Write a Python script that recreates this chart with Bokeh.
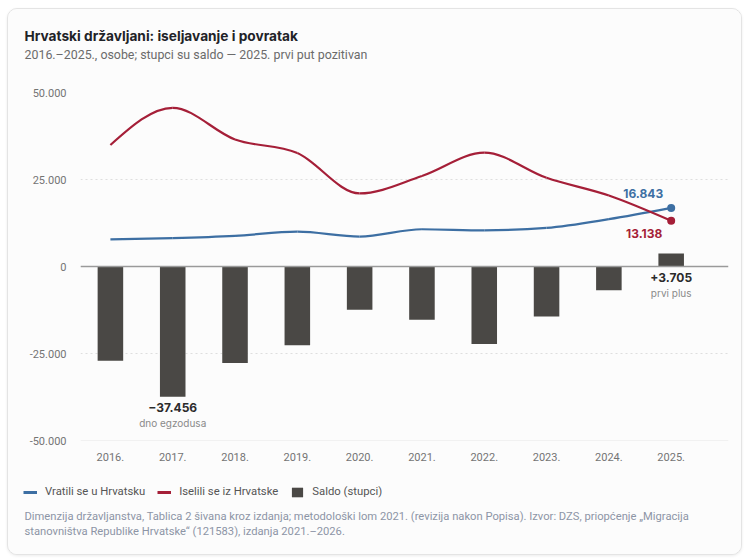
from bokeh.plotting import figure
from bokeh.layouts import column
from bokeh.models import (Range1d, FixedTicker, Span, Label, Legend, LegendItem,
                          ColumnDataSource)
from bokeh.embed import file_html
from bokeh.resources import INLINE

# ---- data ----
years = ["2016.", "2017.", "2018.", "2019.", "2020.", "2021.", "2022.", "2023.", "2024.", "2025."]
vratili = [7800, 8144, 8800, 10000, 8600, 10700, 10400, 11100, 13600, 16843]
iselili = [34900, 45600, 36500, 32600, 21000, 26000, 32700, 25500, 20400, 13138]
saldo = [-27100, -37456, -27700, -22600, -12400, -15300, -22300, -14400, -6800, 3705]
y_ticks = [-50000, -25000, 0, 25000, 50000]
y_tick_labels = ["-50.000", "-25.000", "0", "25.000", "50.000"]
series_names = ["Vratili se u Hrvatsku", "Iselili se iz Hrvatske", "Saldo (stupci)"]

TITLE = "Hrvatski državljani: iseljavanje i povratak"
SUBTITLE = "2016.\u20132025., osobe; stupci su saldo \u2014 2025. prvi put pozitivan"
NOTE_1 = ("Dimenzija državljanstva, Tablica 2 šivana kroz izdanja; metodološki lom 2021. "
          "(revizija nakon Popisa). Izvor: DZS, priopćenje \u201eMigracija")
NOTE_2 = "stanovništva Republike Hrvatske\u201c (121583), izdanja 2021.\u20132026."

BLUE = "#3d6fa3"
RED = "#a51f38"
BAR = "#4a4845"
BG = "#fcfcfc"
W = 733
NAN = float("nan")

xs = list(range(len(years)))


def monotone_bezier(x, y):
    """Control points of a monotone-X cubic curve through the data points."""
    n = len(x)
    t = [0.0] * n
    s = [(y[i + 1] - y[i]) / (x[i + 1] - x[i]) for i in range(n - 1)]
    for i in range(1, n - 1):
        h0 = x[i] - x[i - 1]
        h1 = x[i + 1] - x[i]
        s0, s1 = s[i - 1], s[i]
        p = (s0 * h1 + s1 * h0) / (h0 + h1)
        sg = (1 if s0 > 0 else -1 if s0 < 0 else 0) + (1 if s1 > 0 else -1 if s1 < 0 else 0)
        t[i] = sg * min(abs(s0), abs(s1), 0.5 * abs(p)) if sg else 0.0
    t[0] = (3 * s[0] - t[1]) / 2
    t[-1] = (3 * s[-1] - t[-2]) / 2
    d = dict(x0=[], y0=[], x1=[], y1=[], cx0=[], cy0=[], cx1=[], cy1=[])
    for i in range(n - 1):
        dx = (x[i + 1] - x[i]) / 3
        d["x0"].append(x[i]); d["y0"].append(y[i])
        d["x1"].append(x[i + 1]); d["y1"].append(y[i + 1])
        d["cx0"].append(x[i] + dx); d["cy0"].append(y[i] + t[i] * dx)
        d["cx1"].append(x[i + 1] - dx); d["cy1"].append(y[i + 1] - t[i + 1] * dx)
    return ColumnDataSource(d)


def blank(h):
    f = figure(width=W, height=h, output_backend="svg", toolbar_location=None,
               x_range=Range1d(0, W), y_range=Range1d(h, 0),
               x_axis_location=None, y_axis_location=None, frame_align=False,
               min_border=0, min_border_left=0, min_border_right=0,
               min_border_top=0, min_border_bottom=0,
               background_fill_color=BG, border_fill_color=BG, outline_line_color=None)
    f.xgrid.visible = False
    f.ygrid.visible = False
    return f


def txt(f, x, y, text, color, size, font, bold=False, align="left"):
    f.add_layout(Label(x=x, y=y, text=text, text_align=align, text_baseline="middle",
                       text_color=color, text_font_size=size, text_font=font,
                       text_font_style="bold" if bold else "normal"))


# ---- header ----
head = blank(70)
txt(head, 16, 26, TITLE, "#1f2328", "13.7px", "Inter", bold=True)
txt(head, 16, 45, SUBTITLE, "#6b6b6b", "12.4px", "Roboto")

# ---- chart ----
p = figure(width=W, height=395, output_backend="svg", toolbar_location=None,
           x_range=Range1d(-0.48, 9.92), y_range=Range1d(-50000, 50000), frame_align=False,
           min_border_left=72, min_border_right=13, min_border_top=13, min_border_bottom=34,
           background_fill_color=BG, border_fill_color=BG, outline_line_color=None)

p.xaxis.ticker = FixedTicker(ticks=xs)
p.xaxis.major_label_overrides = {i: years[i] for i in xs}
p.yaxis.ticker = FixedTicker(ticks=y_ticks)
p.yaxis.major_label_overrides = {y_ticks[i]: y_tick_labels[i] for i in range(len(y_ticks))}
for ax in (p.xaxis, p.yaxis):
    ax.axis_line_color = None
    ax.major_tick_line_color = None
    ax.minor_tick_line_color = None
    ax.major_label_text_font = "Roboto"
    ax.major_label_text_font_size = "11px"
    ax.major_label_text_color = "#747474"
p.xaxis.major_label_standoff = 6
p.yaxis.major_label_standoff = 8

p.xgrid.grid_line_color = None
p.ygrid.ticker = FixedTicker(ticks=y_ticks[1:])
p.ygrid.grid_line_color = "#dedede"
p.ygrid.grid_line_dash = "2 3"
p.add_layout(Span(location=y_ticks[0], dimension="width", line_color="#e6e6e6", line_width=1.2))

p.vbar(x=xs, top=saldo, bottom=0, width=0.41, fill_color=BAR, line_color=None)
p.add_layout(Span(location=0, dimension="width", line_color="#9a9a9a", line_width=1.5))

p.bezier(source=monotone_bezier(xs, vratili), x0="x0", y0="y0", x1="x1", y1="y1",
         cx0="cx0", cy0="cy0", cx1="cx1", cy1="cy1", line_color=BLUE, line_width=2.2)
p.bezier(source=monotone_bezier(xs, iselili), x0="x0", y0="y0", x1="x1", y1="y1",
         cx0="cx0", cy0="cy0", cx1="cx1", cy1="cy1", line_color=RED, line_width=2.2)
p.scatter(x=[xs[-1]], y=[vratili[-1]], size=8, fill_color=BLUE, line_color=None)
p.scatter(x=[xs[-1]], y=[iselili[-1]], size=8, fill_color=RED, line_color=None)


def lab(x, y, text, color, size, bold, dx, dy):
    p.add_layout(Label(x=x, y=y, text=text, x_offset=dx, y_offset=dy, text_align="center",
                       text_baseline="middle", text_color=color, text_font_size=size,
                       text_font="Inter", text_font_style="bold" if bold else "normal"))


lab(xs[-1], vratili[-1], "16.843", BLUE, "12px", True, -28, 14)
lab(xs[-1], iselili[-1], "13.138", RED, "12px", True, -27, -13)
lab(xs[-1], 0, "+3.705", "#2b2b2b", "12px", True, 0, -11)
lab(xs[-1], 0, "prvi plus", "#8a8a8a", "10px", False, 0, -26)
lab(xs[1], saldo[1], "\u221237.456", "#2b2b2b", "12px", True, 0, -11)
lab(xs[1], saldo[1], "dno egzodusa", "#8a8a8a", "10px", False, 0, -26)

# ---- footer: legend + source note ----
foot = blank(80)
r_blue = foot.line(x=[NAN], y=[NAN], line_color=BLUE, line_width=3)
r_red = foot.line(x=[NAN], y=[NAN], line_color=RED, line_width=3)
r_bar = foot.vbar(x=[NAN], top=[NAN], width=1, fill_color=BAR, line_color=None)
legend = Legend(items=[LegendItem(label=series_names[0], renderers=[r_blue]),
                       LegendItem(label=series_names[1], renderers=[r_red]),
                       LegendItem(label=series_names[2], renderers=[r_bar])],
                orientation="horizontal", location=(15, 56), background_fill_alpha=0,
                border_line_color=None, label_text_font="Roboto", label_text_font_size="11.3px",
                label_text_color="#555555", glyph_width=14, glyph_height=12, label_standoff=8,
                spacing=12, padding=0, margin=0)
foot.add_layout(legend)
txt(foot, 16, 42, NOTE_1, "#8d95a6", "11.2px", "Roboto")
txt(foot, 16, 57, NOTE_2, "#8d95a6", "11.2px", "Roboto")

layout = column(head, p, foot, spacing=0)
layout.styles = {"margin": "8px 0 0 7px", "border": "1px solid #e4e4e4",
                 "border-radius": "10px", "background-color": BG, "overflow": "hidden",
                 "box-shadow": "0 1px 3px rgba(0,0,0,0.08)"}

open("out.html", "w").write(file_html(layout, INLINE))
